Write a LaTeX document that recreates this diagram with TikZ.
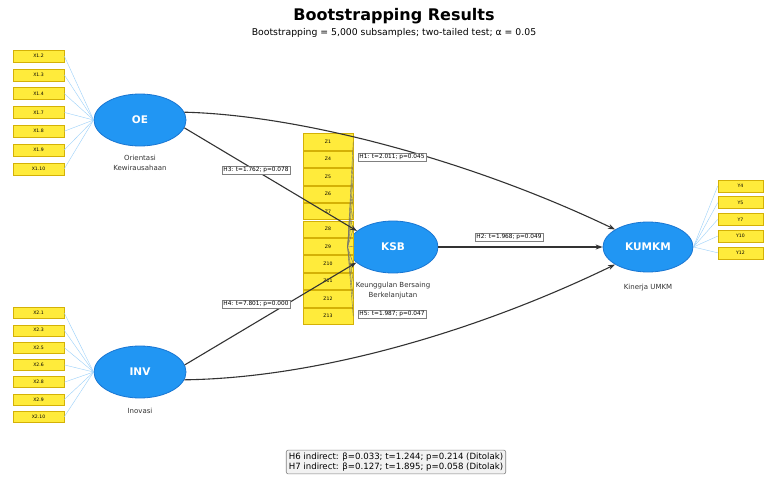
\documentclass[tikz,border=0pt]{standalone}
\usepackage{fontspec}
\setmainfont{DejaVu Sans}
\usetikzlibrary{shapes.geometric,arrows.meta}
\definecolor{lvblue}{HTML}{2196F3}
\definecolor{lvedge}{HTML}{1976D2}
\definecolor{indyel}{HTML}{FFEB3B}
\definecolor{indbord}{HTML}{D4B106}
\definecolor{arrcol}{HTML}{333333}
\definecolor{boxgray}{HTML}{F2F2F2}
\begin{document}
\begin{tikzpicture}[x=1pt,y=-1pt,
  latent/.style={ellipse, fill=lvblue, draw=lvedge, line width=0.8pt,
    minimum width=92pt, minimum height=52pt, inner sep=0pt,
    text=white, font=\fontsize{10.5}{12}\selectfont\bfseries},
  ind/.style={rectangle, fill=indyel, draw=indbord, line width=0.5pt,
    minimum width=51pt, minimum height=12pt, inner sep=0pt,
    font=\fontsize{4.6}{5}\selectfont},
  indline/.style={draw=lvblue!45, line width=0.4pt},
  caption/.style={font=\fontsize{7}{10}\selectfont, align=center, text=black!80},
  path/.style={draw=arrcol, line width=1.1pt, -{Stealth[length=7pt,width=5pt]}},
  plab/.style={fill=white, draw=gray, line width=0.5pt, inner sep=1.2pt,
    font=\fontsize{5.8}{6.5}\selectfont},
]
\useasboundingbox (0,0) rectangle (764,480);
\fill[white] (0,0) rectangle (764,480);

% title
\node[font=\fontsize{16}{18}\selectfont\bfseries] (title) at (394,16) {Bootstrapping Results};
\node[font=\fontsize{9.3}{10}\selectfont] (subtitle) at (394,33) {Bootstrapping = 5,000 subsamples; two-tailed test; α = 0.05};

% latent variables
\node[latent] (oe) at (140,120) {OE};
\node[latent] (inv) at (140,372) {INV};
\node[latent, minimum width=90pt] (ksb) at (393,247) {KSB};
\node[latent, minimum width=90pt, minimum height=50pt] (kumkm) at (648,247) {KUMKM};

% captions
\node[caption] (oecap) at (140,163) {Orientasi\\Kewirausahaan};
\node[caption] (invcap) at (140,411) {Inovasi};
\node[caption] (ksbcap) at (393,291) {Keunggulan Bersaing\\Berkelanjutan};
\node[caption] (kumkmcap) at (648,288) {Kinerja UMKM};

% OE indicators
\foreach \lab [count=\i] in {X1.2,X1.3,X1.4,X1.7,X1.8,X1.9,X1.10} {
  \node[ind] (oei\i) at (38.5,{56+(\i-1)*18.8}) {\lab};
  \draw[indline] (oei\i.east) -- (oe.west);
}
% INV indicators
\foreach \lab [count=\i] in {X2.1,X2.3,X2.5,X2.6,X2.8,X2.9,X2.10} {
  \node[ind, minimum height=11pt] (invi\i) at (38.5,{313+(\i-1)*17.3}) {\lab};
  \draw[indline] (invi\i.east) -- (inv.west);
}
% KSB indicators
\foreach \lab [count=\i] in {Z1,Z4,Z5,Z6,Z7,Z8,Z9,Z10,Z11,Z12,Z13} {
  \node[ind, minimum width=50pt, minimum height=16.4pt] (ksbi\i) at (328,{141.7+(\i-1)*17.45}) {\lab};
}
\foreach \i in {1,...,11} {
  \draw[draw=arrcol!70, line width=0.4pt] (ksbi\i.east) -- (ksb.west);
}
% KUMKM indicators
\foreach \lab [count=\i] in {Y4,Y5,Y7,Y10,Y12} {
  \node[ind, minimum width=45pt] (kumi\i) at (740.5,{186+(\i-1)*16.7}) {\lab};
  \draw[indline] (kumkm.east) -- (kumi\i.west);
}

% structural paths
\draw[path] (oe.10) .. controls (300,115) and (470,160) .. (kumkm.152);
\draw[path] (inv.-10) .. controls (320,378) and (480,330) .. (kumkm.-152);
\draw[path] (oe.-10) -- (ksb.156);
\draw[path] (inv.9) -- (ksb.-157);
\draw[path] (ksb.east) -- (kumkm.west);

% path labels
\node[plab] (h1) at (392,157) {H1: t=2.011; p=0.045};
\node[plab] (h3) at (256,170) {H3: t=1.762; p=0.078};
\node[plab] (h2) at (509,237) {H2: t=1.968; p=0.049};
\node[plab] (h4) at (256,304) {H4: t=7.801; p=0.000};
\node[plab] (h5) at (392,314) {H5: t=1.987; p=0.047};

% indirect effects
\node[fill=boxgray, draw=gray, line width=0.6pt, rounded corners=2pt, inner sep=2.5pt,
  align=left, font=\fontsize{8.6}{10.5}\selectfont] (indirect) at (396,462)
  {H6 indirect: β=0.033; t=1.244; p=0.214 (Ditolak)\\H7 indirect: β=0.127; t=1.895; p=0.058 (Ditolak)};
\end{tikzpicture}
\end{document}
